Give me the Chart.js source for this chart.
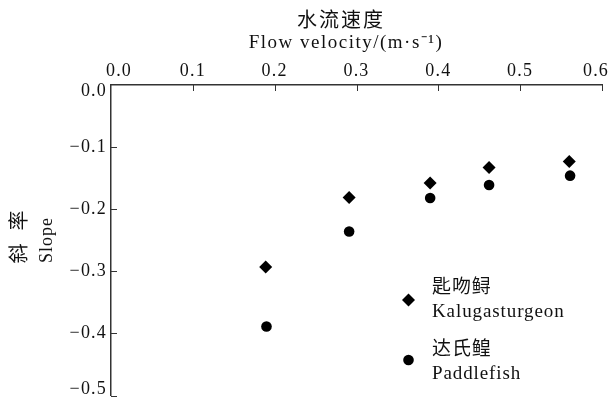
<!DOCTYPE html>
<html>
<head>
<meta charset="utf-8">
<script src="https://cdn.jsdelivr.net/npm/chart.js@4"></script>
<style>
  body { margin: 0; background: #fff; }
  canvas { display: block; }
</style>
</head>
<body>
<canvas id="slopeChart" width="613" height="402"></canvas>
<script>
// flow velocity (m/s) and fitted slope for each fish
const kalugaVelocity = [0.189, 0.291, 0.390, 0.462, 0.560];
const kalugaSlope = [-0.293, -0.181, -0.158, -0.133, -0.123];
const paddleVelocity = [0.190, 0.291, 0.390, 0.462, 0.561];
const paddleSlope = [-0.389, -0.236, -0.182, -0.161, -0.146];

const xTickValues = [0, 0.1, 0.2, 0.3, 0.4, 0.5, 0.6];
const yTickValues = [0, -0.1, -0.2, -0.3, -0.4, -0.5];

const serif = "'Liberation Serif', 'Noto Sans CJK SC', serif";

function toPoints(xs, ys) {
  return xs.map((x, i) => ({ x: x, y: ys[i] }));
}

function tickText(v) {
  return Number(v).toFixed(1).replace('-', '\u2212');
}

// wider tracking like the original typesetting
const spacing = {
  id: 'spacing',
  beforeLayout(chart) { chart.ctx.letterSpacing = '1.2px'; },
  beforeDraw(chart) {
    chart.ctx.letterSpacing = '1.2px';
    // the end labels sit inside the axis ends in the original
    const xItems = chart.scales.x.getLabelItems(chart.chartArea);
    const yItems = chart.scales.y.getLabelItems(chart.chartArea);
    if (!xItems._shifted) {
      xItems[0].options.translation[0] += 8;
      xItems[xItems.length - 1].options.translation[0] -= 6;
      xItems._shifted = true;
    }
    if (!yItems._shifted) {
      yItems[0].options.translation[1] += 6;
      yItems[yItems.length - 1].options.translation[1] -= 6;
      yItems._shifted = true;
    }
  }
};

// inward ticks, titles and the legend are drawn by hand
const decorations = {
  id: 'decorations',
  afterDraw(chart) {
    const ctx = chart.ctx;
    const area = chart.chartArea;
    const xs = chart.scales.x;
    const ys = chart.scales.y;
    ctx.save();
    ctx.strokeStyle = '#333';
    ctx.lineWidth = 1;
    ctx.beginPath();
    for (let v of xTickValues.slice(1)) {
      const px = Math.round(xs.getPixelForValue(v)) + 0.5;
      ctx.moveTo(px, area.top);
      ctx.lineTo(px, area.top + 6);
    }
    for (let v of yTickValues.slice(1)) {
      const py = Math.round(ys.getPixelForValue(v)) + 0.5;
      ctx.moveTo(area.left, py);
      ctx.lineTo(area.left + 6, py);
    }
    ctx.stroke();

    ctx.fillStyle = '#111';
    ctx.textAlign = 'center';
    ctx.textBaseline = 'middle';
    ctx.letterSpacing = '2px';
    ctx.font = '20px ' + serif;
    ctx.fillText('水流速度', 341, 22);
    ctx.letterSpacing = '1.5px';
    ctx.font = '19px ' + serif;
    ctx.fillText('Flow velocity/(m·s⁻¹)', 346, 43);

    // y title, rotated
    ctx.save();
    ctx.translate(21, 237);
    ctx.rotate(-Math.PI / 2);
    ctx.letterSpacing = '4px';
    ctx.font = '20px ' + serif;
    ctx.fillText('斜 率', 2, 0);
    ctx.restore();
    ctx.save();
    ctx.translate(47, 240);
    ctx.rotate(-Math.PI / 2);
    ctx.letterSpacing = '1px';
    ctx.font = '18px ' + serif;
    ctx.fillText('Slope', 0, 0);
    ctx.restore();

    // legend
    ctx.fillStyle = '#000';
    ctx.beginPath();
    ctx.moveTo(408.5, 300 - 6.5);
    ctx.lineTo(408.5 + 6.5, 300);
    ctx.lineTo(408.5, 300 + 6.5);
    ctx.lineTo(408.5 - 6.5, 300);
    ctx.closePath();
    ctx.fill();
    ctx.beginPath();
    ctx.arc(408.5, 360, 5.3, 0, Math.PI * 2);
    ctx.fill();

    ctx.fillStyle = '#111';
    ctx.textAlign = 'left';
    ctx.letterSpacing = '0.9px';
    ctx.font = '19px ' + serif;
    ctx.fillText('匙吻鲟', 432, 288);
    ctx.fillText('Kalugasturgeon', 432, 312);
    ctx.fillText('达氏鳇', 432, 350);
    ctx.fillText('Paddlefish', 432, 374);
    ctx.restore();
  }
};

const ctx = document.getElementById('slopeChart').getContext('2d');
new Chart(ctx, {
  type: 'scatter',
  data: {
    datasets: [
      {
        label: 'Kalugasturgeon',
        data: toPoints(kalugaVelocity, kalugaSlope),
        pointStyle: 'rectRot',
        pointRadius: 6.5,
        backgroundColor: '#000',
        borderColor: '#000',
        borderWidth: 0,
      },
      {
        label: 'Paddlefish',
        data: toPoints(paddleVelocity, paddleSlope),
        pointStyle: 'circle',
        pointRadius: 5.3,
        backgroundColor: '#000',
        borderColor: '#000',
        borderWidth: 0,
      },
    ],
  },
  options: {
    responsive: false,
    animation: false,
    layout: { padding: { left: 0, top: 0, right: 11, bottom: 4.5 } },
    plugins: {
      legend: { display: false },
      tooltip: { enabled: false },
    },
    scales: {
      x: {
        type: 'linear',
        position: 'top',
        min: 0,
        max: 0.6,
        afterBuildTicks: (scale) => {
          scale.ticks = xTickValues.map((v) => ({ value: v }));
        },
        afterFit: (scale) => {
          scale.height = 85;
          scale.paddingLeft = 0;
          scale.paddingRight = 0;
        },
        grid: { display: false, drawTicks: false },
        border: { display: true, color: '#333', width: 1.5 },
        ticks: {
          padding: 3,
          color: '#111',
          font: { family: serif, size: 18 },
          callback: tickText,
        },
      },
      y: {
        type: 'linear',
        position: 'left',
        min: -0.5,
        max: 0,
        afterBuildTicks: (scale) => {
          scale.ticks = yTickValues.map((v) => ({ value: v }));
        },
        afterFit: (scale) => {
          scale.width = 111;
          scale.paddingTop = 0;
          scale.paddingBottom = 0;
        },
        grid: { display: false, drawTicks: false },
        border: { display: true, color: '#333', width: 1.5 },
        ticks: {
          padding: 4,
          color: '#111',
          font: { family: serif, size: 18 },
          callback: tickText,
        },
      },
    },
  },
  plugins: [spacing, decorations],
});
</script>
</body>
</html>
